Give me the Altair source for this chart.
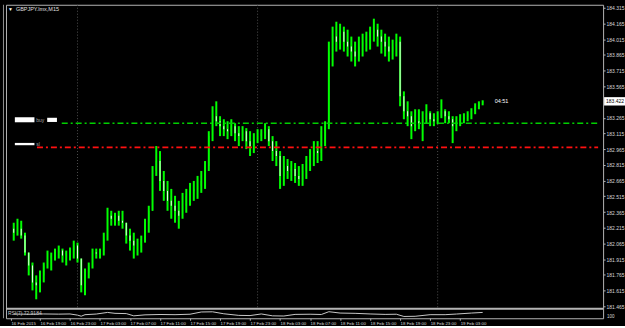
import altair as alt
import pandas as pd

symbol_label = "GBPJPY.lmx,M15"
indicator_label = "RSI(7) 72.9184"
indicator_top_label = "100"
countdown_label = "04:51"
current_price = 183.422
current_label = "183.422"

bar_start_hour = 15.5      # hours since 16 Feb 2015 00:00
bar_step_hours = 0.5
first_open = 182.206

highs = [182.263,182.301,182.282,182.168,181.978,181.883,181.760,181.807,181.883,181.997,
181.978,182.016,182.045,182.016,181.997,182.026,182.092,182.073,181.921,181.826,
181.883,182.016,182.016,182.016,182.168,182.406,182.377,182.358,182.377,182.377,
182.263,182.206,182.168,182.111,182.140,182.301,182.425,182.804,182.995,182.947,
182.757,182.662,182.586,182.520,182.472,182.548,182.586,182.643,182.662,182.710,
182.757,182.852,183.137,183.375,183.422,183.280,183.251,183.232,183.251,183.213,
183.185,183.185,183.166,183.137,183.118,183.156,183.156,183.213,183.185,183.090,
183.042,182.947,182.900,182.871,182.852,182.833,182.804,182.824,182.900,182.966,
183.042,183.042,183.185,183.232,183.992,184.135,184.182,184.163,184.135,184.106,
184.040,183.992,184.040,184.068,184.087,184.135,184.211,184.163,184.106,184.068,
184.040,184.011,184.068,184.040,183.517,183.422,183.327,183.346,183.346,183.327,
183.394,183.327,183.308,183.327,183.441,183.346,183.327,183.280,183.280,183.299,
183.308,183.327,183.356,183.403,183.422,183.432]

lows = [182.092,182.140,182.111,181.950,181.760,181.617,181.532,181.598,181.693,181.826,
181.807,181.902,181.921,181.883,181.855,181.902,181.921,181.883,181.598,181.570,
181.731,181.826,181.921,181.921,181.950,182.092,182.235,182.235,182.235,182.206,
182.064,181.997,181.921,181.950,181.978,182.073,182.168,182.377,182.710,182.567,
182.472,182.377,182.301,182.263,182.206,182.301,182.358,182.425,182.472,182.491,
182.548,182.586,182.757,183.042,183.185,183.090,183.090,183.061,183.090,183.042,
182.995,183.042,182.966,182.900,182.928,183.023,183.042,183.061,182.995,182.852,
182.804,182.586,182.615,182.681,182.662,182.643,182.615,182.615,182.681,182.757,
182.804,182.833,182.852,182.995,183.156,183.755,183.897,183.916,183.897,183.850,
183.802,183.755,183.802,183.850,183.897,183.916,183.992,183.945,183.878,183.850,
183.802,183.821,183.850,183.375,183.251,183.185,183.061,183.137,183.156,183.042,
183.213,183.185,183.185,183.204,183.261,183.213,183.213,183.023,183.137,183.185,
183.213,183.232,183.251,183.299,183.346,183.384]

closes = [182.168,182.206,182.140,181.978,181.855,181.693,181.665,181.760,181.855,181.921,
181.950,181.978,181.997,181.950,181.978,181.997,182.045,181.921,181.665,181.788,
181.855,181.978,181.969,181.997,182.111,182.330,182.301,182.330,182.282,182.263,
182.140,182.092,182.045,182.045,182.111,182.263,182.377,182.757,182.852,182.662,
182.567,182.472,182.425,182.377,182.330,182.425,182.520,182.567,182.586,182.615,
182.662,182.804,183.090,183.280,183.232,183.185,183.156,183.137,183.185,183.118,
183.090,183.137,183.042,182.995,183.061,183.090,183.118,183.156,183.042,182.947,
182.900,182.710,182.804,182.757,182.776,182.710,182.681,182.757,182.852,182.900,
182.947,182.928,183.137,183.185,183.897,184.040,183.992,184.087,183.992,183.945,
183.897,183.850,183.945,183.992,184.040,184.087,184.106,184.040,183.992,183.945,
183.897,183.945,183.992,183.470,183.327,183.280,183.185,183.232,183.213,183.251,
183.308,183.251,183.232,183.280,183.327,183.280,183.251,183.185,183.232,183.251,
183.270,183.299,183.327,183.375,183.403,183.422]

ind_hours = [15.5,17.5,19.5,21.5,23,24,24.5,25,26.5,28,29,30.5,31.5,33,35,37,39,40.5,42,43.5,
45.5,47,48.5,50,51.5,53,55,56.5,57.5,59,61,63,65,66.5,67.5,69,71,73,74.5,76.5,78]
ind_values = [47,45,48,46,48,35,23,40,47,65,55,52,27,38,42,40,45,70,72,50,
32,30,48,27,25,43,45,42,73,58,55,48,43,45,20,22,40,40,47,58,65]

price_ticks = [184.315,184.165,184.015,183.865,183.715,183.565,183.265,183.115,182.965,
182.815,182.665,182.515,182.365,182.215,182.065,181.915,181.765,181.615,181.465]
time_ticks = [15.13,19,23,27,31,35,39,43,47,51,55,59,63,67,71,75]
day_separators = [24,48,72]

level_prices = [183.213, 182.982]
level_starts = [21.9, 18.6]
level_colors = ["#00d000", "#ff1010"]

box_x1 = [15.65, 19.96, 15.65]
box_x2 = [18.26, 21.26, 18.26]
box_y1 = [183.270, 183.265, 183.025]
box_y2 = [183.222, 183.225, 183.003]
note_texts = ["buy", "sl"]
note_x = [18.5, 18.5]
note_y = [183.240, 183.010]

x_domain = [15.13, 93.39]
y_domain = [181.446, 184.344]

# ---------------- tables ----------------
opens = [first_open] + closes[:-1]
hours = [bar_start_hour + bar_step_hours * i for i in range(len(closes))]
bars = pd.DataFrame({
    "h": hours, "o": opens, "hi": highs, "lo": lows, "c": closes,
    "dir": ["up" if c >= o else "down" for o, c in zip(opens, closes)],
})
ind_df = pd.DataFrame({"h": ind_hours, "v": ind_values})
sep_df = pd.DataFrame({"h": day_separators})
lvl_df = pd.DataFrame({"y": level_prices, "x1": level_starts,
                       "x2": [x_domain[1]] * 2, "col": level_colors})
box_df = pd.DataFrame({"x1": box_x1, "x2": box_x2, "y1": box_y1, "y2": box_y2})
note_df = pd.DataFrame({"t": note_texts, "x": note_x, "y": note_y})
cur_df = pd.DataFrame({"p": [current_price], "p1": [current_price + 0.040],
                       "p2": [current_price - 0.040], "t": [current_label],
                       "cd": [countdown_label], "cx": [79.6]})
txt_df = pd.DataFrame({"sym": [symbol_label], "ind": [indicator_label],
                       "top": [indicator_top_label]})

FONT = "Liberation Sans"
LBL = "#d8d8d8"
FRAME = "#b4b4b4"

xs = alt.Scale(domain=x_domain, nice=False, zero=False)
ys = alt.Scale(domain=y_domain, nice=False, zero=False, range=[305, 0])
ind_scale = alt.Scale(domain=[0, 100], nice=False, zero=False, range=[315, 306])

label_expr = ("datum.value < 16 ? '16 Feb 2015' : (16 + floor(datum.value / 24)) + ' Feb ' + "
              "(datum.value % 24 < 10 ? '0' : '') + (datum.value % 24) + ':00'")
x_axis = alt.Axis(values=time_ticks, labelExpr=label_expr, labelAlign="left", labelFontSize=4.4,
                  labelFont=FONT, labelColor=LBL, tickColor=FRAME, tickSize=2,
                  labelPadding=1, domain=False, grid=False, title=None,
                  labelOverlap=False, labelFlush=False, labelBound=False)
y_axis = alt.Axis(orient="right", values=price_ticks, format=".3f", labelFontSize=5,
                  labelFont=FONT, labelColor=LBL, tickColor=FRAME, tickSize=2,
                  labelPadding=1, domain=False, grid=False, title=None,
                  labelOverlap=False, labelBound=False)

X = lambda f: alt.X(f, scale=xs, axis=x_axis)
Y = lambda f: alt.Y(f, scale=ys, axis=y_axis)

seps = alt.Chart(sep_df).mark_rule(color="#505050", strokeDash=[1, 2], strokeWidth=1).encode(
    x=X("h:Q"), y=alt.value(0), y2=alt.value(305))

wicks = alt.Chart(bars).mark_rule(color="#00ff00", strokeWidth=2).encode(
    x=X("h:Q"), y=Y("lo:Q"), y2="hi:Q")

bodies = alt.Chart(bars).mark_bar(size=1).encode(
    x=X("h:Q"), y=Y("o:Q"), y2="c:Q",
    color=alt.Color("dir:N", scale=alt.Scale(domain=["up", "down"], range=["#00ff00", "#e8ffe8"]),
                    legend=None))

levels = alt.Chart(lvl_df).mark_rule(strokeDash=[6, 3, 2, 3], strokeWidth=1.6).encode(
    x=X("x1:Q"), x2="x2:Q", y=Y("y:Q"),
    color=alt.Color("col:N", scale=None))

boxes = alt.Chart(box_df).mark_rect(color="white").encode(
    x=X("x1:Q"), x2="x2:Q", y=Y("y1:Q"), y2="y2:Q")

notes = alt.Chart(note_df).mark_text(align="left", baseline="middle", fontSize=5,
                                     font=FONT, color="#a8a8a8").encode(
    x=X("x:Q"), y=Y("y:Q"), text="t:N")

cur_box = alt.Chart(cur_df).mark_rect(color="white").encode(
    x=alt.value(601), x2=alt.value(622), y=Y("p1:Q"), y2="p2:Q")
cur_txt = alt.Chart(cur_df).mark_text(align="left", baseline="middle", fontSize=5,
                                      font=FONT, color="black").encode(
    x=alt.value(603), y=Y("p:Q"), text="t:N")
cd_txt = alt.Chart(cur_df).mark_text(align="left", baseline="middle", fontSize=5.5,
                                     font=FONT, color="white").encode(
    x=X("cx:Q"), y=Y("p:Q"), text="cd:N")

sym_tri = alt.Chart(txt_df).mark_text(align="left", baseline="middle", fontSize=5,
                                      font=FONT, color="white").encode(
    x=alt.value(2), y=alt.value(4), text=alt.value("▼"))
sym_txt = alt.Chart(txt_df).mark_text(align="left", baseline="middle", fontSize=5.5,
                                      font=FONT, color="#e0e0e0").encode(
    x=alt.value(10), y=alt.value(4), text="sym:N")

# separator between price window and indicator window, and outer left frame
divider = alt.Chart(txt_df).mark_rule(color=FRAME, strokeWidth=2).encode(
    x=alt.value(0), x2=alt.value(600), y=alt.value(305.5))
outer_left = alt.Chart(txt_df).mark_rule(color="#909090", strokeWidth=1).encode(
    x=alt.value(-2.5), y=alt.value(0), y2=alt.value(315))

ind_line = alt.Chart(ind_df).mark_line(color="#c8c8c8", strokeWidth=1).encode(
    x=X("h:Q"), y=alt.Y("v:Q", scale=ind_scale, axis=None))
ind_txt = alt.Chart(txt_df).mark_text(align="left", baseline="middle", fontSize=5,
                                      font=FONT, color="#c8c8c8").encode(
    x=alt.value(2), y=alt.value(309.5), text="ind:N")
ind_top = alt.Chart(txt_df).mark_text(align="left", baseline="middle", fontSize=4.5,
                                      font=FONT, color=LBL).encode(
    x=alt.value(604), y=alt.value(313.5), text="top:N")

main = alt.layer(seps, wicks, bodies, levels, boxes, notes, cur_box, cur_txt, cd_txt,
                 sym_tri, sym_txt, divider, outer_left)
ind = alt.layer(ind_line, ind_txt, ind_top)

chart = alt.layer(main, ind).resolve_scale(y="independent").properties(
    width=600, height=315,
    padding={"left": 3, "top": 3, "right": 0, "bottom": 0}
).configure(background="black").configure_view(stroke=FRAME, strokeWidth=1)

chart.save("out.html", embed_options={"renderer": "svg", "actions": False})
